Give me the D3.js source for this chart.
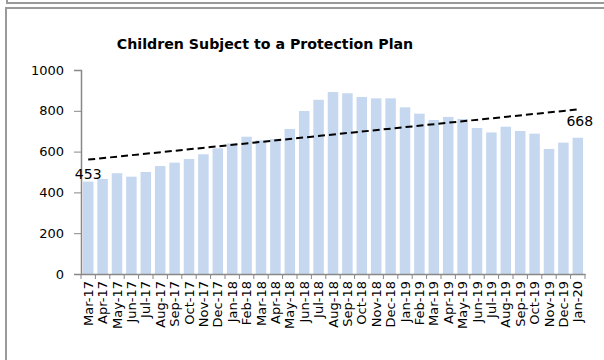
<!DOCTYPE html>
<html>
<head>
<meta charset="utf-8">
<script src="https://cdn.jsdelivr.net/npm/d3@7"></script>
<style>
	body { margin: 0; background: #fff; }
	text { font-family: "DejaVu Sans", sans-serif; fill: #000; }
</style>
</head>
<body>
<svg width="604" height="360"></svg>
<script>
var months = ["Mar-17","Apr-17","May-17","Jun-17","Jul-17","Aug-17","Sep-17","Oct-17","Nov-17","Dec-17",
	"Jan-18","Feb-18","Mar-18","Apr-18","May-18","Jun-18","Jul-18","Aug-18","Sep-18","Oct-18","Nov-18","Dec-18",
	"Jan-19","Feb-19","Mar-19","Apr-19","May-19","Jun-19","Jul-19","Aug-19","Sep-19","Oct-19","Nov-19","Dec-19",
	"Jan-20"];
var children = [453,466,494,477,500,529,546,564,587,616,
	640,673,655,662,711,799,854,892,886,868,861,861,
	817,786,755,770,760,716,694,722,701,688,613,644,
	668];
var yTicks = [0,200,400,600,800,1000];
var labelled = ["Mar-17","Jan-20"];

var svg = d3.select("svg");

// frame of the chart box (and the edge of the one above it)
svg.append("path")
   .attr("d", "M7,0 V3 H604")
   .attr("fill", "none")
   .attr("stroke", "#9a9a9a")
   .attr("stroke-width", 2);
svg.append("path")
   .attr("d", "M6,360 V8 H604")
   .attr("fill", "none")
   .attr("stroke", "#9a9a9a")
   .attr("stroke-width", 2);

svg.append("text")
   .attr("x", 265)
   .attr("y", 49)
   .attr("text-anchor", "middle")
   .attr("font-size", "14.2px")
   .attr("font-weight", "bold")
   .text("Children Subject to a Protection Plan");

var pLeft = 81, pRight = 585, pTop = 70, pBottom = 274;

var x = d3.scaleBand().domain(months).range([pLeft, pRight]).paddingInner(0.27).paddingOuter(0.135);
var xb = d3.scaleBand().domain(months).range([pLeft, pRight]);
var y = d3.scaleLinear().domain([0, 1000]).range([pBottom, pTop]);

svg.selectAll(".bar")
   .data(months)
   .enter().append("rect")
   .attr("class", "bar")
   .attr("x", function(d) { return x(d); })
   .attr("y", function(d, i) { return y(children[i]); })
   .attr("width", x.bandwidth())
   .attr("height", function(d, i) { return pBottom - y(children[i]); })
   .attr("fill", "#c6d8f0");

// y axis
var yAxis = svg.append("g")
   .attr("transform", "translate(" + pLeft + ",0)")
   .call(d3.axisLeft(y).tickValues(yTicks).tickFormat(d3.format("d")).tickSize(7).tickPadding(10));
yAxis.selectAll("text").attr("font-size", "13px").attr("font-family", "DejaVu Sans");

// x axis, ticks between the bars
var xAxis = svg.append("g")
   .attr("transform", "translate(0," + pBottom + ")")
   .call(d3.axisBottom(xb).tickSize(0).tickPadding(0));
xAxis.selectAll(".tick line").remove();
xAxis.selectAll(".tick text")
   .attr("font-size", "13px")
   .attr("font-family", "DejaVu Sans")
   .attr("text-anchor", "end")
   .attr("transform", "translate(0,7) rotate(-90)")
   .attr("dx", 0)
   .attr("dy", "0.35em")
   .attr("y", 0);
xAxis.selectAll(".sep")
   .data(months.concat(["end"]))
   .enter().append("line")
   .attr("class", "sep")
   .attr("x1", function(d, i) { return pLeft + xb.step() * i; })
   .attr("x2", function(d, i) { return pLeft + xb.step() * i; })
   .attr("y1", 0)
   .attr("y2", 5)
   .attr("stroke", "#888");

svg.selectAll(".domain").attr("stroke", "#888").attr("stroke-width", 1.5);
yAxis.selectAll(".tick line").attr("stroke", "#888");

// linear trend line (least squares)
var n = children.length;
var mx = d3.mean(d3.range(n)), my = d3.mean(children);
var slope = d3.sum(children, function(v, i) { return (i - mx) * (v - my); }) /
	d3.sum(d3.range(n), function(i) { return (i - mx) * (i - mx); });
var icpt = my - slope * mx;
var trend = [0, n - 1].map(function(i) { return [x(months[i]) + x.bandwidth() / 2, y(icpt + slope * i)]; });

svg.append("path")
   .attr("d", d3.line()(trend))
   .attr("fill", "none")
   .attr("stroke", "#000")
   .attr("stroke-width", 2)
   .attr("stroke-dasharray", "7,4");

// data labels on first and last month
var labelLift = { "Mar-17": 3, "Jan-20": 12 };
svg.selectAll(".lbl")
   .data(labelled)
   .enter().append("text")
   .attr("class", "lbl")
   .attr("x", function(d) { return x(d) + x.bandwidth() / 2 + (d == "Jan-20" ? 2 : 0); })
   .attr("y", function(d) { return y(children[months.indexOf(d)]) - labelLift[d]; })
   .attr("text-anchor", "middle")
   .attr("font-size", "14px")
   .text(function(d) { return children[months.indexOf(d)]; });
</script>
</body>
</html>
